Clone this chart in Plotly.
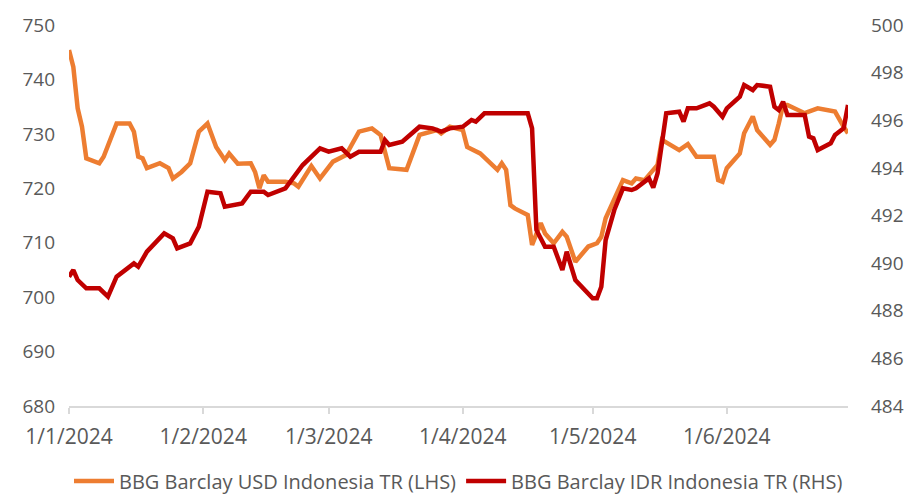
import plotly.graph_objects as go

usd_dates = ["2024-01-01","2024-01-02","2024-01-03","2024-01-04","2024-01-05","2024-01-08","2024-01-09",
"2024-01-12","2024-01-15","2024-01-16","2024-01-17","2024-01-18","2024-01-19","2024-01-22","2024-01-24",
"2024-01-25","2024-01-27","2024-01-29","2024-01-31","2024-02-02","2024-02-04","2024-02-06","2024-02-07",
"2024-02-08","2024-02-09","2024-02-12","2024-02-13","2024-02-14","2024-02-15","2024-02-16","2024-02-20",
"2024-02-22","2024-02-23","2024-02-26","2024-02-28","2024-03-02","2024-03-05","2024-03-08","2024-03-11",
"2024-03-13","2024-03-15","2024-03-19","2024-03-22","2024-03-26","2024-03-27","2024-03-29","2024-04-01",
"2024-04-02","2024-04-04","2024-04-05","2024-04-09","2024-04-10","2024-04-11","2024-04-12","2024-04-13",
"2024-04-16","2024-04-17","2024-04-18","2024-04-19","2024-04-20","2024-04-22","2024-04-24","2024-04-25",
"2024-04-27","2024-04-30","2024-05-02","2024-05-03","2024-05-04","2024-05-08","2024-05-10","2024-05-11",
"2024-05-13","2024-05-14","2024-05-16","2024-05-17","2024-05-21","2024-05-23","2024-05-25","2024-05-29",
"2024-05-30","2024-05-31","2024-06-01","2024-06-04","2024-06-05","2024-06-07","2024-06-08","2024-06-11",
"2024-06-12","2024-06-13","2024-06-14","2024-06-15","2024-06-19","2024-06-22","2024-06-26","2024-06-28",
"2024-06-29"]
usd_values = [745.4,742.3,734.7,731.3,725.5,724.6,725.8,
731.9,731.9,730.4,725.8,725.5,723.7,724.6,723.7,
721.8,723.0,724.6,730.4,731.9,727.6,725.2,726.4,
725.5,724.5,724.6,723.0,720.0,722.4,721.2,721.2,
720.9,720.3,724.1,721.8,724.9,726.1,730.4,731.0,
729.8,723.7,723.4,729.8,730.7,730.1,731.3,730.7,
727.6,726.7,726.4,723.4,724.6,723.4,716.9,716.3,
715.1,709.6,711.7,713.6,711.7,709.9,712.0,711.1,
706.5,709.3,709.9,711.1,714.5,721.5,720.9,721.8,
721.5,722.4,724.3,728.9,727.0,728.1,725.8,725.8,
721.5,721.2,723.7,726.4,730.1,733.2,730.7,728.0,
728.9,731.9,735.3,735.3,733.8,734.7,734.1,731.3,
730.1]

idr_dates = ["2024-01-01","2024-01-02","2024-01-03","2024-01-05","2024-01-08","2024-01-10","2024-01-12",
"2024-01-15","2024-01-16","2024-01-17","2024-01-19","2024-01-23","2024-01-25","2024-01-26","2024-01-29",
"2024-01-31","2024-02-02","2024-02-05","2024-02-06","2024-02-10","2024-02-12","2024-02-15","2024-02-16",
"2024-02-20","2024-02-24","2024-02-28","2024-03-01","2024-03-04","2024-03-06","2024-03-08","2024-03-13",
"2024-03-14","2024-03-15","2024-03-18","2024-03-22","2024-03-25","2024-03-27","2024-03-29","2024-04-01",
"2024-04-03","2024-04-04","2024-04-06","2024-04-16","2024-04-17","2024-04-18","2024-04-20","2024-04-22",
"2024-04-24","2024-04-25","2024-04-27","2024-05-01","2024-05-02","2024-05-03","2024-05-04","2024-05-06",
"2024-05-08","2024-05-10","2024-05-11","2024-05-14","2024-05-15","2024-05-16","2024-05-18","2024-05-21",
"2024-05-22","2024-05-23","2024-05-25","2024-05-28","2024-05-29","2024-05-31","2024-06-01","2024-06-04",
"2024-06-05","2024-06-07","2024-06-08","2024-06-11","2024-06-12","2024-06-13","2024-06-14","2024-06-15",
"2024-06-19","2024-06-20","2024-06-21","2024-06-22","2024-06-25","2024-06-26","2024-06-28","2024-06-29"]
idr_values = [489.43,489.71,489.29,488.94,488.94,488.59,489.43,
489.85,489.99,489.85,490.48,491.25,491.04,490.62,490.83,
491.53,493.00,492.93,492.37,492.51,493.00,493.00,492.86,
493.14,494.12,494.82,494.68,494.82,494.47,494.68,494.68,
495.17,494.96,495.10,495.73,495.66,495.52,495.66,495.73,
496.01,495.94,496.29,496.29,495.66,491.39,490.69,490.69,
489.71,490.48,489.29,488.52,488.52,489.01,490.97,492.23,
493.14,493.07,493.14,493.56,493.17,493.77,496.29,496.36,
495.94,496.50,496.50,496.71,496.57,496.15,496.50,496.99,
497.48,497.27,497.48,497.41,496.57,496.43,496.78,496.22,
496.22,495.31,495.24,494.75,495.03,495.38,495.66,496.64]

x_tick_vals = ["2024-01-01","2024-02-01","2024-03-01","2024-04-01","2024-05-01","2024-06-01"]
x_tick_text = ["1/1/2024","1/2/2024","1/3/2024","1/4/2024","1/5/2024","1/6/2024"]

FONT = "Open Sans, Liberation Sans, sans-serif"
GREY = "#595959"

fig = go.Figure()
fig.add_trace(go.Scatter(x=usd_dates, y=usd_values, mode="lines",
                         name="BBG Barclay USD Indonesia TR (LHS)",
                         line=dict(color="#ED7D31", width=4.5)))
fig.add_trace(go.Scatter(x=idr_dates, y=idr_values, mode="lines", yaxis="y2",
                         name="BBG Barclay IDR Indonesia TR (RHS)",
                         line=dict(color="#C00000", width=4.5)))

fig.update_layout(
    width=907, height=494,
    margin=dict(l=69, r=59, t=25, b=88, autoexpand=False),
    paper_bgcolor="white", plot_bgcolor="white",
    font=dict(family=FONT, size=19, color=GREY),
    showlegend=True,
    legend=dict(orientation="h", x=0.5, xanchor="center",
                yref="container", y=(494 - 481) / 494, yanchor="middle",
                font=dict(size=20, color=GREY), itemwidth=40, tracegroupgap=0),
    xaxis=dict(type="date", range=["2024-01-01", "2024-06-29"],
               tickvals=x_tick_vals, ticktext=x_tick_text, automargin=False,
               showgrid=False, showline=True, linecolor="#D9D9D9", linewidth=1.5,
               ticks="outside", ticklen=6, tickcolor="#D9D9D9", tickwidth=1.5,
               ticklabelstandoff=5,
               tickfont=dict(size=21, color=GREY), zeroline=False),
    yaxis=dict(range=[680, 750], dtick=10, showgrid=False, zeroline=False, automargin=False,
               showline=False, tickfont=dict(size=19, color=GREY), ticks="",
               ticklabelstandoff=13),
    yaxis2=dict(range=[484, 500], dtick=2, overlaying="y", side="right", automargin=False,
                showgrid=False, zeroline=False, showline=False,
                tickfont=dict(size=19, color=GREY), ticks="", ticklabelstandoff=22),
)

fig.write_html("out.html", config={"displayModeBar": False})

with open("out.html", "r", encoding="utf-8") as f:
    html = f.read()
html = html.replace("<head>", "<head><style>html,body{margin:0;padding:0;overflow:hidden;}</style>", 1)
with open("out.html", "w", encoding="utf-8") as f:
    f.write(html)
